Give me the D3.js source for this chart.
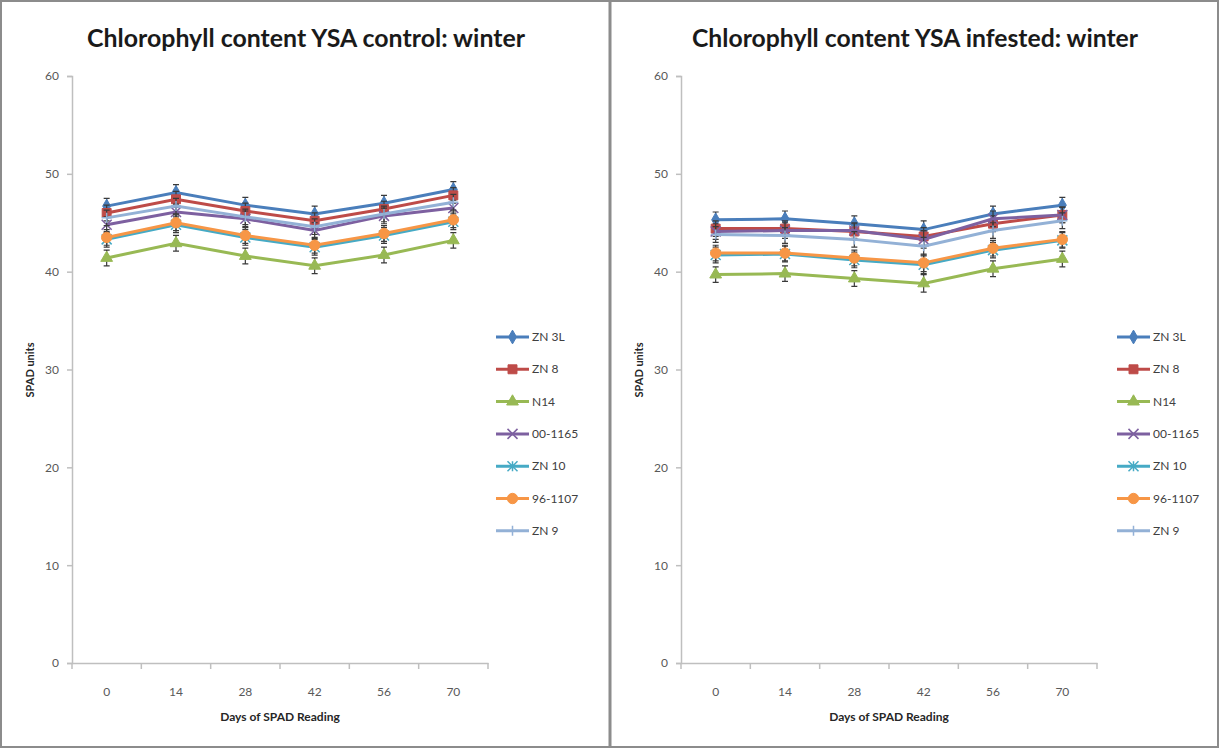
<!DOCTYPE html>
<html>
<head>
<meta charset="utf-8">
<script src="https://cdn.jsdelivr.net/npm/d3@7"></script>
<style>
  body { margin: 0; background: #fff; }
  svg { display: block; font-family: Lato, "Open Sans", sans-serif; }
</style>
</head>
<body>
<svg id="chart" width="1219" height="748"></svg>
<script>
// categories and series
var days = ["0", "14", "28", "42", "56", "70"];
var seriesNames = ["ZN 3L", "ZN 8", "N14", "00-1165", "ZN 10", "96-1107", "ZN 9"];
var yTicks = [0, 10, 20, 30, 40, 50, 60];

// control panel values (SPAD units)
var ctrlZN3L   = [46.7, 48.1, 46.8, 45.9, 47.0, 48.4];
var ctrlZN8    = [46.0, 47.4, 46.2, 45.2, 46.4, 47.8];
var ctrlN14    = [41.4, 42.9, 41.6, 40.6, 41.7, 43.2];
var ctrl001165 = [44.8, 46.1, 45.4, 44.2, 45.7, 46.5];
var ctrlZN10   = [43.3, 44.8, 43.5, 42.5, 43.7, 45.1];
var ctrl961107 = [43.5, 45.0, 43.7, 42.7, 43.9, 45.3];
var ctrlZN9    = [45.5, 46.7, 45.6, 44.6, 45.9, 47.1];

// infested panel values (SPAD units)
var infZN3L   = [45.3, 45.4, 44.9, 44.3, 45.9, 46.8];
var infZN8    = [44.4, 44.4, 44.1, 43.6, 44.9, 45.8];
var infN14    = [39.7, 39.8, 39.3, 38.8, 40.3, 41.3];
var inf001165 = [44.1, 44.2, 44.2, 43.3, 45.4, 45.8];
var infZN10   = [41.7, 41.8, 41.2, 40.7, 42.2, 43.2];
var inf961107 = [41.9, 41.9, 41.4, 40.9, 42.4, 43.3];
var infZN9    = [43.8, 43.7, 43.3, 42.6, 44.2, 45.2];

// error bar half-widths per day
var ctrlErr = [0.8, 0.8, 0.8, 0.8, 0.8, 0.8];
var infErr  = [0.8, 0.8, 0.8, 0.9, 0.8, 0.8];

var colors = ["#4a7ebb", "#be4b48", "#98b954", "#7d60a0", "#46aac5", "#f79646", "#93b1d6"];
var symbols = ["diamond", "square", "triangle", "cross", "asterisk", "circle", "plus"];

var svg = d3.select("#chart");

// frame + divider
svg.append("rect").attr("x", 1).attr("y", 1).attr("width", 1217).attr("height", 746)
  .attr("fill", "none").attr("stroke", "#8c8c8c").attr("stroke-width", 2);
svg.append("line").attr("x1", 610).attr("x2", 610).attr("y1", 0).attr("y2", 748)
  .attr("stroke", "#8c8c8c").attr("stroke-width", 3);

function markerPath(type, s) {
  var h = s / 2;
  if (type === "diamond") return d3.symbol(d3.symbolDiamond, s * s * 0.55)();
  if (type === "square") return d3.symbol(d3.symbolSquare, s * s * 0.8)();
  if (type === "triangle") return d3.symbol(d3.symbolTriangle, s * s * 0.6)();
  if (type === "circle") return d3.symbol(d3.symbolCircle, s * s * 0.85)();
  if (type === "cross") return "M" + -h + "," + -h + "L" + h + "," + h + "M" + -h + "," + h + "L" + h + "," + -h;
  if (type === "plus") return "M" + -h + ",0L" + h + ",0M0," + -h + "L0," + h;
  // asterisk
  return "M" + -h + "," + -h + "L" + h + "," + h + "M" + -h + "," + h + "L" + h + "," + -h + "M0," + -h + "L0," + h;
}
var strokeOnly = { cross: true, plus: true, asterisk: true };

function drawPanel(o) {
  var g = svg.append("g");

  var x = d3.scaleBand().domain(days).range([o.left, o.left + 416]);
  var y = d3.scaleLinear().domain([0, 60]).range([663, 76]);

  g.append("text").attr("x", o.titleX).attr("y", 47)
    .attr("text-anchor", "middle").attr("font-size", 24).attr("font-weight", "bold")
    .attr("fill", "#1a1a1a")
    .attr("textLength", o.titleW).attr("lengthAdjust", "spacingAndGlyphs")
    .text(o.title);

  // y axis
  var yAxis = g.append("g").attr("transform", "translate(" + o.left + ",0)")
    .call(d3.axisLeft(y).tickValues(yTicks).tickSize(5).tickPadding(8));
  // x axis
  var xAxis = g.append("g").attr("transform", "translate(0,663)")
    .call(d3.axisBottom(x).tickSize(0).tickPadding(24));
  [yAxis, xAxis].forEach(function (a) {
    a.select(".domain").attr("stroke", "#bfbfbf").attr("stroke-width", 1.5);
    a.selectAll(".tick line").attr("stroke", "#bfbfbf").attr("stroke-width", 1.5);
    a.selectAll(".tick text").attr("fill", "#595959").attr("font-size", 12)
      .attr("font-family", "Lato, sans-serif");
  });
  // category boundary ticks
  xAxis.selectAll(".bnd").data(days.concat(["end"])).enter().append("line")
    .attr("x1", function (d, i) { return o.left + i * x.step(); })
    .attr("x2", function (d, i) { return o.left + i * x.step(); })
    .attr("y1", 0).attr("y2", 6).attr("stroke", "#bfbfbf").attr("stroke-width", 1.5);

  g.append("text").attr("x", o.left + 208).attr("y", 721)
    .attr("text-anchor", "middle").attr("font-size", 12).attr("font-weight", "bold")
    .attr("fill", "#262626").text("Days of SPAD Reading");
  g.append("text").attr("transform", "translate(" + (o.left - 38) + ",370) rotate(-90)")
    .attr("text-anchor", "middle").attr("font-size", 11).attr("font-weight", "bold")
    .attr("fill", "#262626").text("SPAD units");

  var line = d3.line()
    .x(function (d, i) { return x(days[i]) + x.bandwidth() / 2; })
    .y(function (d) { return y(d); });

  o.series.forEach(function (vals, si) {
    var sg = g.append("g");
    sg.append("path").datum(vals).attr("d", line)
      .attr("fill", "none").attr("stroke", colors[si]).attr("stroke-width", 3);
    // error bars
    sg.selectAll(".err").data(vals).enter().append("path")
      .attr("d", function (d, i) {
        var cx = x(days[i]) + x.bandwidth() / 2, e = o.err[i];
        var y1 = y(d + e), y2 = y(d - e);
        return "M" + cx + "," + y1 + "L" + cx + "," + y2 +
          "M" + (cx - 3) + "," + y1 + "L" + (cx + 3) + "," + y1 +
          "M" + (cx - 3) + "," + y2 + "L" + (cx + 3) + "," + y2;
      })
      .attr("stroke", "#3a3a3a").attr("stroke-width", 1.2).attr("fill", "none");
    sg.selectAll(".mk").data(vals).enter().append("path")
      .attr("transform", function (d, i) {
        return "translate(" + (x(days[i]) + x.bandwidth() / 2) + "," + y(d) + ")";
      })
      .attr("d", markerPath(symbols[si], 10))
      .attr("fill", strokeOnly[symbols[si]] ? "none" : colors[si])
      .attr("stroke", colors[si]).attr("stroke-width", strokeOnly[symbols[si]] ? 1.5 : 1);
  });

  // legend
  var lg = g.append("g");
  seriesNames.forEach(function (name, si) {
    var ly = 337 + si * 32.3;
    lg.append("line").attr("x1", o.legX).attr("x2", o.legX + 33).attr("y1", ly).attr("y2", ly)
      .attr("stroke", colors[si]).attr("stroke-width", 3);
    lg.append("path").attr("transform", "translate(" + (o.legX + 16.5) + "," + ly + ")")
      .attr("d", markerPath(symbols[si], 10))
      .attr("fill", strokeOnly[symbols[si]] ? "none" : colors[si])
      .attr("stroke", colors[si]).attr("stroke-width", strokeOnly[symbols[si]] ? 1.5 : 1);
    lg.append("text").attr("x", o.legX + 36).attr("y", ly + 4)
      .attr("font-size", 12).attr("fill", "#404040").text(name);
  });
}

drawPanel({
  left: 72, titleX: 306, titleW: 438, legX: 496,
  title: "Chlorophyll content YSA control: winter",
  series: [ctrlZN3L, ctrlZN8, ctrlN14, ctrl001165, ctrlZN10, ctrl961107, ctrlZN9],
  err: ctrlErr
});
drawPanel({
  left: 681, titleX: 915, titleW: 446, legX: 1117,
  title: "Chlorophyll content YSA infested: winter",
  series: [infZN3L, infZN8, infN14, inf001165, infZN10, inf961107, infZN9],
  err: infErr
});
</script>
</body>
</html>
